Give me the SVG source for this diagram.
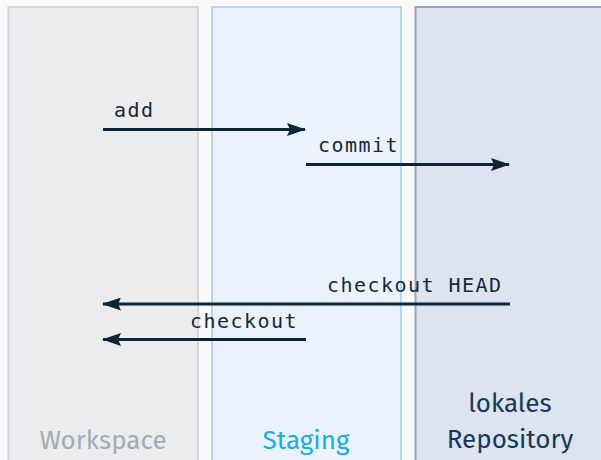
<svg xmlns="http://www.w3.org/2000/svg" width="601" height="460" viewBox="0 0 601 460">
<defs>
<style>
.lane{stroke-width:2}
.lbl{font-family:"Fira Sans","Noto Sans","Open Sans",sans-serif;font-size:26px;text-anchor:middle}
.cmd{font-family:"DejaVu Sans Mono","Liberation Mono",monospace;font-size:20px;fill:#14283a;letter-spacing:1.45px}
.arr{stroke:#0c2538;stroke-width:3;fill:none}
</style>
<marker id="ah" viewBox="0 0 19 13" refX="18" refY="6.5" markerWidth="19" markerHeight="13" markerUnits="userSpaceOnUse" orient="auto">
<path d="M0,0 L19,6.5 L0,13 L3,6.5 Z" fill="#0c2538"/>
</marker>
</defs>
<rect width="601" height="460" fill="#f9f9f9"/>
<g id="workspace">
<rect class="lane" x="8.5" y="7" width="189.5" height="460" fill="#ebecee" stroke="#d4d6d9"/>
<text class="lbl" x="103" y="449" fill="#a1acb7">Workspace</text>
</g>
<g id="staging">
<rect class="lane" x="212" y="7" width="189" height="460" fill="#eaf2fc" stroke="#b4d6f4"/>
<text class="lbl" x="306" y="449" fill="#16aee8">Staging</text>
</g>
<g id="repository">
<rect class="lane" x="415.5" y="7" width="190" height="460" fill="#dde4ef" stroke="#93a8c3"/>
<text class="lbl" x="510" y="412" fill="#16395a">lokales</text>
<text class="lbl" x="510" y="448" fill="#16395a">Repository</text>
</g>
<g id="connectors">
<line class="arr" x1="103" y1="129.5" x2="305" y2="129.5" marker-end="url(#ah)"/>
<text class="cmd" x="114" y="117">add</text>
<line class="arr" x1="306" y1="164.5" x2="509" y2="164.5" marker-end="url(#ah)"/>
<text class="cmd" x="318" y="152">commit</text>
<line class="arr" x1="510" y1="304" x2="103" y2="304" marker-end="url(#ah)"/>
<text class="cmd" x="327" y="292">checkout HEAD</text>
<line class="arr" x1="306" y1="339.5" x2="103" y2="339.5" marker-end="url(#ah)"/>
<text class="cmd" x="190" y="328">checkout</text>
</g>
</svg>
